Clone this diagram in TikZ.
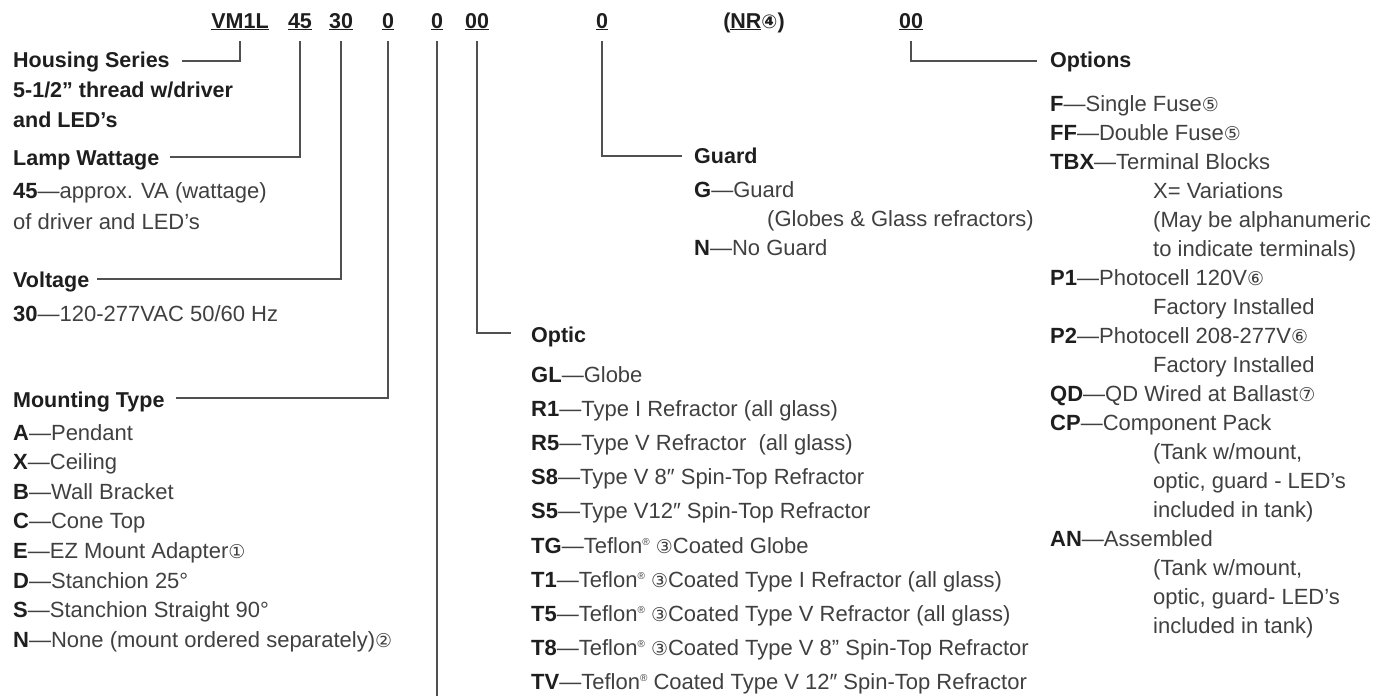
\documentclass[tikz,border=0pt]{standalone}
\usepackage{fontspec}
\setmainfont{Liberation Sans}
\newfontfamily\circfont{DejaVu Sans}
\usepackage{xcolor}
\usepackage{tikz}
\usetikzlibrary{positioning}
\definecolor{ink}{HTML}{1E1E1E}
\definecolor{body}{HTML}{404040}
\definecolor{rule}{HTML}{505050}
\newcommand\cn[1]{{\circfont\fontsize{19}{19}\selectfont #1}}
\newcommand\rg{\raisebox{8pt}{\fontsize{10}{10}\selectfont ®}}
\newcommand\itm[1]{{\color{ink}\bfseries #1}—}

\begin{document}
\begin{tikzpicture}[x=1pt,y=-1pt,
  code/.style={font=\fontsize{21.5}{26}\selectfont\bfseries,text=ink,anchor=base,inner sep=0pt,text depth=13pt},
  head/.style={font=\fontsize{21.5}{26}\selectfont\bfseries,text=ink,anchor=base west,inner sep=0pt},
  item/.style={font=\fontsize{22}{26}\selectfont,text=body,anchor=base west,inner sep=0pt},
  link/.style={draw=rule,line width=1.2pt}]
\useasboundingbox (0,0) rectangle (1395,696);

\node[code] (cvm) at (240,28) {\underline{VM1L}};
\node[code] (c45) at (300,28) {\underline{45}};
\node[code] (c30) at (341,28) {\underline{30}};
\node[code] (cmt) at (388,28) {\underline{0}};
\node[code] (cx) at (437,28) {\underline{0}};
\node[code] (cop) at (477,28) {\underline{00}};
\node[code] (cgd) at (602,28) {\underline{0}};
\node[code] (cnr) at (754,28) {(\underline{NR}\cn{④})};
\node[code] (copt) at (911,28) {\underline{00}};

\node[head] (housing) at (13,67) {Housing Series};
\node[head] (housing2) at (13,97) {5-1/2” thread w/driver};
\node[head] (housing3) at (13,127) {and LED’s};
\node[head] (lamp) at (13,165) {Lamp Wattage};
\node[item] (lamp1) at (13,198) {\itm{45}approx. VA (wattage)};
\node[item] (lamp2) at (13,229) {of driver and LED’s};
\node[head] (volt) at (13,287) {Voltage};
\node[item] (volt1) at (13,321) {\itm{30}120-277VAC 50/60 Hz};
\node[head] (mount) at (13,407) {Mounting Type};
\node[item] (mtA) at (13,440) {\itm{A}Pendant};
\node[item] (mtX) at (13,469.6) {\itm{X}Ceiling};
\node[item] (mtB) at (13,499.2) {\itm{B}Wall Bracket};
\node[item] (mtC) at (13,528.8) {\itm{C}Cone Top};
\node[item] (mtE) at (13,558.4) {\itm{E}EZ Mount Adapter\cn{①}};
\node[item] (mtD) at (13,588) {\itm{D}Stanchion 25°};
\node[item] (mtS) at (13,617.6) {\itm{S}Stanchion Straight 90°};
\node[item] (mtN) at (13,647.2) {\itm{N}None (mount ordered separately)\cn{②}};

\node[head] (optic) at (531,342) {Optic};
\node[item] (opGL) at (531,382) {\itm{GL}Globe};
\node[item] (opR1) at (531,416.2) {\itm{R1}Type I Refractor (all glass)};
\node[item] (opR5) at (531,450.4) {\itm{R5}Type V Refractor \ (all glass)};
\node[item] (opS8) at (531,484.6) {\itm{S8}Type V 8″ Spin-Top Refractor};
\node[item] (opS5) at (531,518.8) {\itm{S5}Type V12″ Spin-Top Refractor};
\node[item] (opTG) at (531,553) {\itm{TG}Teflon\rg\ \cn{③}Coated Globe};
\node[item] (opT1) at (531,587.2) {\itm{T1}Teflon\rg\ \cn{③}Coated Type I Refractor (all glass)};
\node[item] (opT5) at (531,621.4) {\itm{T5}Teflon\rg\ \cn{③}Coated Type V Refractor (all glass)};
\node[item] (opT8) at (531,655.6) {\itm{T8}Teflon\rg\ \cn{③}Coated Type V 8” Spin-Top Refractor};
\node[item] (opTV) at (531,689.8) {\itm{TV}Teflon\rg\ Coated Type V 12″ Spin-Top Refractor};

\node[head] (guard) at (694,163) {Guard};
\node[item] (gdG) at (694,197) {\itm{G}Guard};
\node[item] (gdG2) at (767,226) {(Globes \& Glass refractors)};
\node[item] (gdN) at (694,255) {\itm{N}No Guard};

\node[head] (options) at (1050,67) {Options};
\node[item] (otF) at (1050,111) {\itm{F}Single Fuse\cn{⑤}};
\node[item] (otFF) at (1050,140) {\itm{FF}Double Fuse\cn{⑤}};
\node[item] (otTBX) at (1050,169) {\itm{TBX}Terminal Blocks};
\node[item] (otTBX2) at (1153,198) {X= Variations};
\node[item] (otTBX3) at (1153,227) {(May be alphanumeric};
\node[item] (otTBX4) at (1153,256) {to indicate terminals)};
\node[item] (otP1) at (1050,285) {\itm{P1}Photocell 120V\cn{⑥}};
\node[item] (otP1b) at (1153,314) {Factory Installed};
\node[item] (otP2) at (1050,343) {\itm{P2}Photocell 208-277V\cn{⑥}};
\node[item] (otP2b) at (1153,372) {Factory Installed};
\node[item] (otQD) at (1050,401) {\itm{QD}QD Wired at Ballast\cn{⑦}};
\node[item] (otCP) at (1050,430) {\itm{CP}Component Pack};
\node[item] (otCP2) at (1153,459) {(Tank w/mount,};
\node[item] (otCP3) at (1153,488) {optic, guard - LED’s};
\node[item] (otCP4) at (1153,517) {included in tank)};
\node[item] (otAN) at (1050,546) {\itm{AN}Assembled};
\node[item] (otAN2) at (1153,575) {(Tank w/mount,};
\node[item] (otAN3) at (1153,604) {optic, guard- LED’s};
\node[item] (otAN4) at (1153,633) {included in tank)};

\coordinate (tail) at (437,696);
\draw[link] (cvm.south) |- ([shift={(12pt,6pt)}]housing.base east);
\draw[link] (c45.south) |- ([shift={(10pt,8pt)}]lamp.base east);
\draw[link] (c30.south) |- ([shift={(8pt,8pt)}]volt.base east);
\draw[link] (cmt.south) |- ([shift={(11pt,9pt)}]mount.base east);
\draw[link] (cx.south) -- (tail);
\draw[link] (cop.south) |- ([shift={(-20pt,9pt)}]optic.base west);
\draw[link] (cgd.south) |- ([shift={(-12pt,7pt)}]guard.base west);
\draw[link] (copt.south) |- ([shift={(-13pt,6pt)}]options.base west);
\end{tikzpicture}
\end{document}
